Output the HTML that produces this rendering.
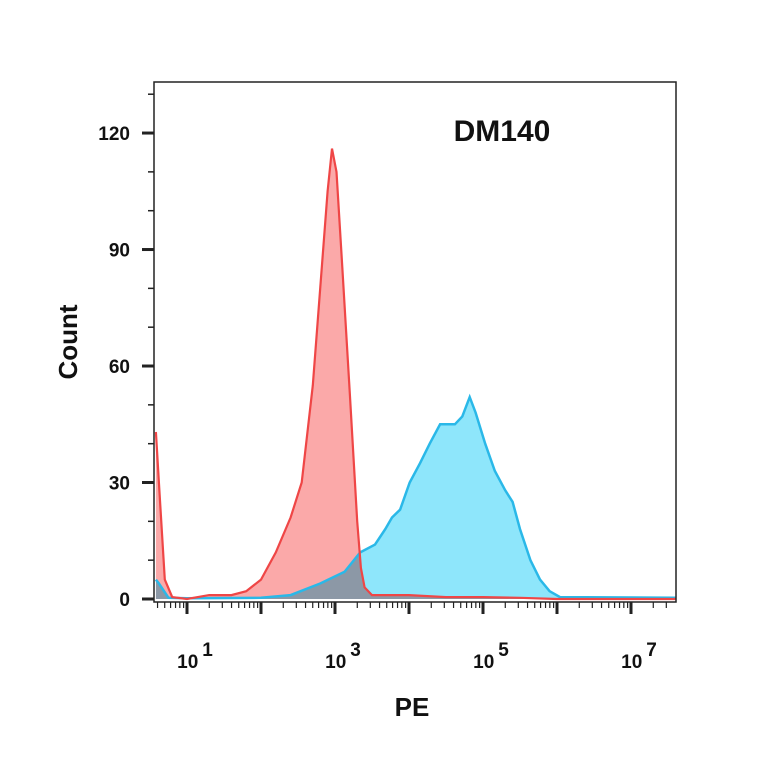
<!DOCTYPE html>
<html><head><meta charset="utf-8"><style>
body{margin:0;background:#fff;width:764px;height:764px;overflow:hidden}
text{font-family:"Liberation Sans",Arial,sans-serif;font-weight:bold;fill:#111}
</style></head><body>
<svg id="chart" width="764" height="764" viewBox="0 0 764 764" xmlns="http://www.w3.org/2000/svg">
<defs><clipPath id="pc"><rect x="154" y="82" width="522" height="520"/></clipPath></defs>
<g id="marks" clip-path="url(#pc)"></g>
<rect x="154" y="82" width="522" height="520" fill="none" stroke="#222" stroke-width="1.5"/>
<g id="axes"></g>
<text x="502" y="141" font-size="30" text-anchor="middle">DM140</text>
<text x="0" y="0" font-size="26" text-anchor="middle" transform="translate(77,342) rotate(-90)">Count</text>
<text x="412" y="716" font-size="26" text-anchor="middle">PE</text>
</svg>
<script>
const redLog=[0.58,0.62,0.7,0.8,1.0,1.3,1.6,1.8,2.0,2.2,2.4,2.55,2.7,2.8,2.9,2.96,3.02,3.1,3.2,3.3,3.35,3.4,3.5,4.0,4.5,5.0,5.5,6.0,7.6];
const redCount=[43,30,5,0.5,0,1,1,2,5,12,21,30,55,80,105,116,110,85,53,20,8,3,1,1,0.5,0.5,0.3,0,0];
const blueLog=[0.58,0.62,0.75,1.0,2.0,2.4,2.8,3.13,3.34,3.54,3.68,3.77,3.88,4.01,4.15,4.28,4.42,4.62,4.72,4.82,4.9,5.03,5.16,5.3,5.4,5.5,5.64,5.77,5.9,6.04,7.6];
const blueCount=[5,4,0.3,0.2,0.3,1,4,7,12,14,18,21,23,30,35,40,45,45,47,52,48,40,33,28,25,18,10,5,2,0.5,0.3];
const yTicks=[0,30,60,90,120];
const xTickExp=[1,3,5,7];
const X0=187,DEC=74,Y0=599,YS=3.883;
const xs=l=>X0+(l-1)*DEC, ys=c=>Y0-c*YS;
const NS="http://www.w3.org/2000/svg";
const marks=document.getElementById('marks'),axes=document.getElementById('axes');
function mk(tag,attrs,parent){const e=document.createElementNS(NS,tag);for(const k in attrs)e.setAttribute(k,attrs[k]);parent.appendChild(e);return e;}
function path(L,C){let d='M'+xs(L[0])+','+Y0;L.forEach((l,i)=>d+=' L'+xs(l).toFixed(1)+','+ys(C[i]).toFixed(1));return d;}
function lineP(L,C){return 'M'+L.map((l,i)=>xs(l).toFixed(1)+','+ys(C[i]).toFixed(1)).join(' L');}
let e;
e=mk('path',{d:path(blueLog,blueCount)+' L'+xs(blueLog[blueLog.length-1])+','+Y0+' Z',fill:'#8ee6fb'},marks);

e=mk('path',{d:path(redLog,redCount)+' L'+xs(redLog[redLog.length-1])+','+Y0+' Z',fill:'#fba9a9',style:'mix-blend-mode:multiply'},marks);

e=mk('path',{d:lineP(blueLog,blueCount),fill:'none',stroke:'#2ab8e8','stroke-width':2.5},marks);

e=mk('path',{d:lineP(redLog,redCount),fill:'none',stroke:'#ef4646','stroke-width':2.2},marks);

for(let v=0;v<=130;v+=10){const y=ys(v),major=yTicks.includes(v);
 e=mk('line',{x1:major?142:148,x2:154,y1:y,y2:y,stroke:'#222','stroke-width':major?3:1.5},axes);
 }
yTicks.forEach(v=>{e=mk('text',{x:130,y:ys(v)+7,'font-size':19,'text-anchor':'end'},axes);e.textContent=v;
 });
for(let d=0;d<=7;d++){for(let m=1;m<10;m++){const l=d+Math.log10(m);if(l<0.58||l>7.58)continue;const x=xs(l);
 e=mk('line',{x1:x,x2:x,y1:602,y2:m==1?614:608,stroke:'#222','stroke-width':m==1?3:1.2},axes);
 }}
xTickExp.forEach(p=>{e=mk('text',{x:xs(p)+8,y:668,'font-size':19,'text-anchor':'middle'},axes);
 
 e.textContent='10';const s=mk('tspan',{dx:4,dy:-12,'font-size':19},e);s.textContent=p;});
</script>
</body></html>
